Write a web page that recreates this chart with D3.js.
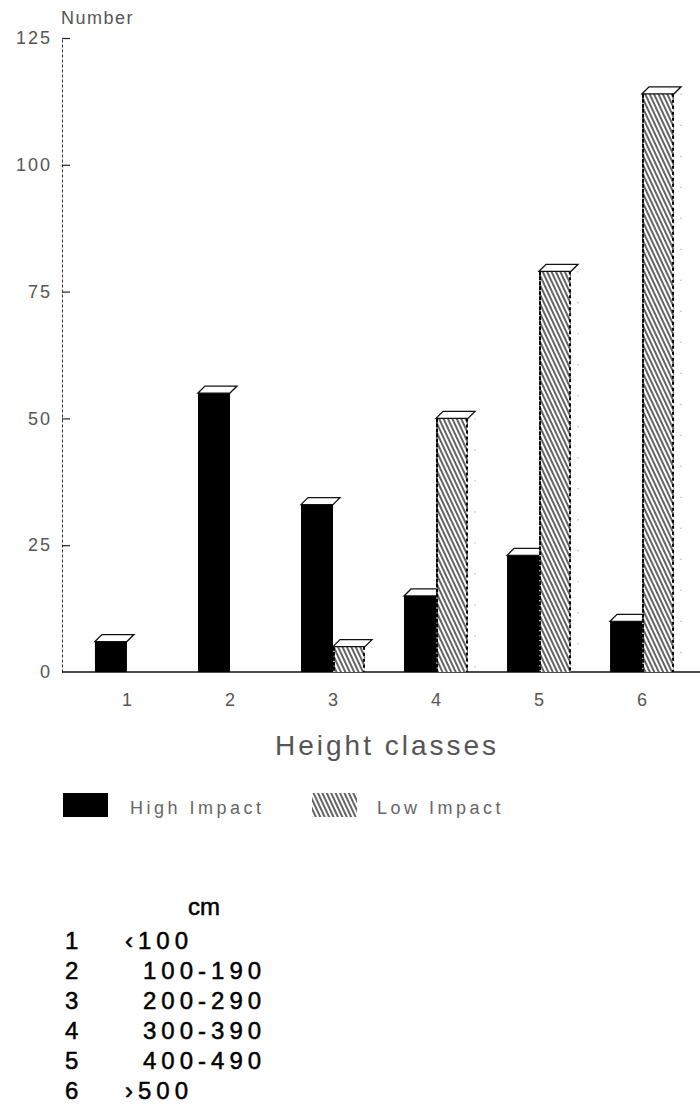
<!DOCTYPE html>
<html>
<head>
<meta charset="utf-8">
<script src="https://cdn.jsdelivr.net/npm/d3@7"></script>
<style>
  body { margin: 0; background: #fff; }
  svg { display: block; font-family: "Liberation Sans", Arial, sans-serif; }
</style>
</head>
<body>
<div id="chart"></div>
<script>
// chart data
var categories = ["1", "2", "3", "4", "5", "6"]
var seriesNames = ["High Impact", "Low Impact"]
var highImpact = [6, 55, 33, 15, 23, 10]
var lowImpact = [0, 0, 5, 50, 79, 114]
var yTicks = [0, 25, 50, 75, 100, 125]
var heightRanges = ["\u2039100", "100-190", "200-290", "300-390", "400-490", "\u203A500"]
var unitLabel = "cm"

var width = 700, height = 1114

var svg = d3.select("#chart").append("svg")
    .attr("width", width).attr("height", height)

// hatch pattern for the low impact bars
var defs = svg.append("defs")
var pat = defs.append("pattern")
    .attr("id", "hatch")
    .attr("patternUnits", "userSpaceOnUse")
    .attr("width", 4).attr("height", 4)
    .attr("patternTransform", "rotate(-25)")
pat.append("rect").attr("width", 4).attr("height", 4).attr("fill", "#fff")
pat.append("line")
    .attr("x1", 1).attr("y1", 0).attr("x2", 1).attr("y2", 4)
    .attr("stroke", "#111").attr("stroke-width", 1.3)

var y = d3.scaleLinear().domain([0, 125]).range([672, 38])
var x = d3.scaleBand().domain(categories)
    .range([62, 707]).paddingInner(0.379).paddingOuter(0.32)
var xs = d3.scaleBand().domain(seriesNames).range([0, x.bandwidth()])

// y axis: dotted spine, ticks pointing into the plot
var yAxis = svg.append("g")
    .attr("transform", "translate(62,0)")
    .call(d3.axisLeft(y).tickValues(yTicks).tickSizeInner(-8).tickSizeOuter(0).tickPadding(10))
yAxis.select(".domain").attr("stroke", "#333").attr("stroke-dasharray", "3,2").attr("stroke-width", 1)
yAxis.selectAll(".tick line").attr("stroke", "#222").attr("stroke-width", 1.2)
yAxis.selectAll(".tick text").attr("font-size", 18).attr("letter-spacing", 2).attr("fill", "#555")
yAxis.select(".tick:first-of-type line").remove()

// baseline and class labels
svg.append("line")
    .attr("x1", 62).attr("x2", 700)
    .attr("y1", y(0)).attr("y2", y(0))
    .attr("stroke", "#111").attr("stroke-width", 1.5)

var xAxis = svg.append("g")
    .attr("transform", "translate(0," + y(0) + ")")
    .call(d3.axisBottom(x).tickSize(0).tickPadding(21))
xAxis.select(".domain").remove()
xAxis.selectAll(".tick text").attr("font-size", 18).attr("fill", "#555")

svg.append("text")
    .attr("x", 61).attr("y", 24)
    .attr("font-size", 18).attr("letter-spacing", 1.5).attr("fill", "#555")
    .text("Number")

function capPath(x0, x1, top) {
    var dx = 7, dy = 7
    return "M" + x0 + "," + top + "L" + (x0 + dx) + "," + (top - dy) +
        "L" + (x1 + dx) + "," + (top - dy) + "L" + x1 + "," + top + "Z"
}

// high impact bars (drawn first so hatched bars overlap their caps)
var hi = svg.append("g").selectAll("g")
    .data(categories.map(function(c, i) { return {cat: c, v: highImpact[i]} }))
    .join("g")
hi.append("rect")
    .attr("x", function(d) { return x(d.cat) + xs("High Impact") })
    .attr("y", function(d) { return y(d.v) })
    .attr("width", xs.bandwidth())
    .attr("height", function(d) { return y(0) - y(d.v) })
    .attr("fill", "#000")
hi.append("path")
    .attr("d", function(d) {
        var x0 = x(d.cat) + xs("High Impact")
        return capPath(x0, x0 + xs.bandwidth(), y(d.v))
    })
    .attr("fill", "#fff").attr("stroke", "#111").attr("stroke-width", 1.3)

// low impact bars
var lo = svg.append("g").selectAll("g")
    .data(categories.map(function(c, i) { return {cat: c, v: lowImpact[i]} })
        .filter(function(d) { return d.v > 0 }))
    .join("g")
lo.append("rect")
    .attr("x", function(d) { return x(d.cat) + xs("Low Impact") })
    .attr("y", function(d) { return y(d.v) })
    .attr("width", xs.bandwidth())
    .attr("height", function(d) { return y(0) - y(d.v) })
    .attr("fill", "url(#hatch)")
// left edge heavy, right edge dotted
lo.append("line")
    .attr("x1", function(d) { return x(d.cat) + xs("Low Impact") + 1 })
    .attr("x2", function(d) { return x(d.cat) + xs("Low Impact") + 1 })
    .attr("y1", function(d) { return y(d.v) }).attr("y2", y(0))
    .attr("stroke", "#000").attr("stroke-width", 2).attr("stroke-dasharray", "4,1")
lo.append("line")
    .attr("x1", function(d) { return x(d.cat) + xs("Low Impact") + xs.bandwidth() - 1 })
    .attr("x2", function(d) { return x(d.cat) + xs("Low Impact") + xs.bandwidth() - 1 })
    .attr("y1", function(d) { return y(d.v) }).attr("y2", y(0))
    .attr("stroke", "#000").attr("stroke-width", 2).attr("stroke-dasharray", "3,3")
// faint back edge of the side face
lo.append("line")
    .attr("x1", function(d) { return x(d.cat) + xs("Low Impact") + xs.bandwidth() + 7 })
    .attr("x2", function(d) { return x(d.cat) + xs("Low Impact") + xs.bandwidth() + 7 })
    .attr("y1", function(d) { return y(d.v) }).attr("y2", y(0))
    .attr("stroke", "#888").attr("stroke-width", 1).attr("stroke-dasharray", "1,30")
lo.append("path")
    .attr("d", function(d) {
        var x0 = x(d.cat) + xs("Low Impact")
        return capPath(x0, x0 + xs.bandwidth(), y(d.v))
    })
    .attr("fill", "#fff").attr("stroke", "#111").attr("stroke-width", 1.3)

// x title
svg.append("text")
    .attr("x", 275).attr("y", 755)
    .attr("font-size", 28).attr("letter-spacing", 3).attr("fill", "#555")
    .text("Height classes")

// legend
var legendPos = [{x: 63, tx: 130}, {x: 312, tx: 377}]
var leg = svg.append("g").selectAll("g")
    .data(seriesNames)
    .join("g")
leg.append("rect")
    .attr("x", function(d, i) { return legendPos[i].x })
    .attr("y", 793).attr("width", 45).attr("height", 24)
    .attr("fill", function(d, i) { return i == 0 ? "#000" : "url(#hatch)" })
leg.append("text")
    .attr("x", function(d, i) { return legendPos[i].tx })
    .attr("y", 814)
    .attr("font-size", 18).attr("letter-spacing", 3.5).attr("fill", "#666")
    .text(function(d) { return d })

// height class table
var table = svg.append("g")
    .attr("fill", "#000").attr("stroke", "#000").attr("stroke-width", 0.5)
table.append("text")
    .attr("x", 188).attr("y", 915)
    .attr("font-size", 24)
    .text(unitLabel)
var rows = table.selectAll("g.row")
    .data(categories)
    .join("g").attr("class", "row")
    .attr("transform", function(d, i) { return "translate(0," + (949 + 30 * i) + ")" })
rows.append("text")
    .attr("x", 65)
    .attr("font-size", 24)
    .text(function(d) { return d })
rows.append("text")
    .attr("x", function(d, i) { return /^[\u2039\u203A]/.test(heightRanges[i]) ? 125 : 143 })
    .attr("font-size", 24).attr("letter-spacing", 5)
    .text(function(d, i) { return heightRanges[i] })
</script>
</body>
</html>
